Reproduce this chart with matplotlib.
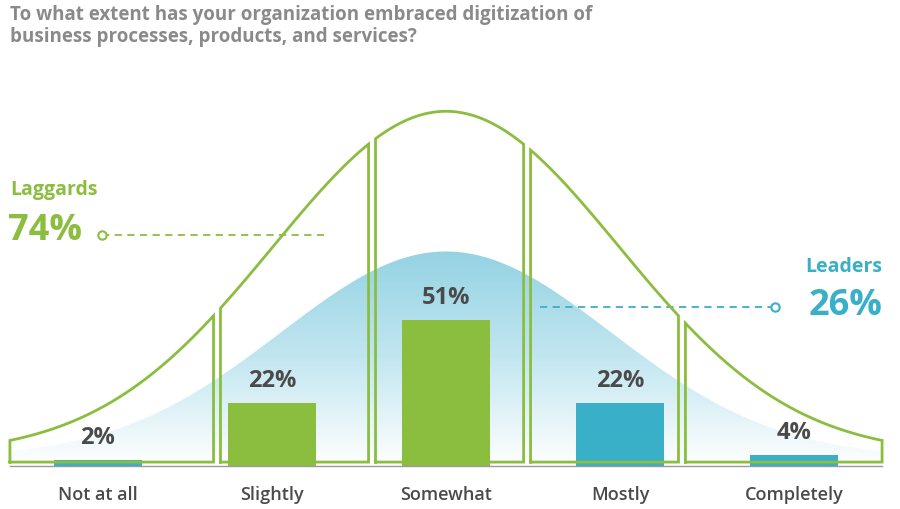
import numpy as np
import matplotlib.pyplot as plt
from matplotlib.patches import Polygon
from matplotlib.colors import LinearSegmentedColormap

plt.rcParams['font.family'] = 'Open Sans'

categories = ['Not at all', 'Slightly', 'Somewhat', 'Mostly', 'Completely']
values = [2, 22, 51, 22, 4]
bar_colors = ['#3aafc8', '#8bbd3f', '#8bbd3f', '#3aafc8', '#3aafc8']

GREEN = '#8bbd3f'
TEAL = '#3aafc8'
DARK = '#4a4a4a'

fig = plt.figure(figsize=(9, 5.09), dpi=100)
ax = fig.add_axes([0, 0, 1, 1])
ax.set_xlim(-0.563, 4.609)
ax.set_ylim(-15.0, 162.9)
ax.axis('off')

x = np.linspace(-0.506, 4.506, 400)

# blue gradient bell
blue_y = 3 + 72 * np.exp(-(x - 2) ** 2 / (2 * 0.95 ** 2))
cmap = LinearSegmentedColormap.from_list('b', ['#ffffff', '#c2e6f0', '#93d2e3'])
grad = np.linspace(0, 1, 256).reshape(-1, 1)
im = ax.imshow(grad, extent=[-0.506, 4.506, 0, 76], origin='lower', aspect='auto',
               cmap=cmap, zorder=1)
poly = Polygon(np.column_stack([np.r_[x, x[::-1]], np.r_[blue_y, np.zeros_like(x)]]),
               closed=True, facecolor='none', edgecolor='none')
ax.add_patch(poly)
im.set_clip_path(poly)

# green bell outline, split into columns
def green(v):
    return 4 + 120 * np.exp(-(v - 2) ** 2 / (2 * 0.993 ** 2))

edges = [-0.506, 0.684, 1.575, 2.466, 3.356, 4.506]
gap = 0.02
for i in range(5):
    a = edges[i] + (gap if i > 0 else 0)
    b = edges[i + 1] - (gap if i < 4 else 0)
    xs = np.linspace(a, b, 100)
    ys = green(xs)
    px = np.r_[a, xs, b, a]
    py = np.r_[1.4, ys, 1.4, 1.4]
    ax.plot(px, py, color=GREEN, lw=2, zorder=3, solid_joinstyle='miter')

# bars
pos = np.arange(len(categories))
ax.bar(pos, values, width=0.506, color=bar_colors, zorder=2)
ax.plot([-0.506, 4.506], [0, 0], color='#9a9a9a', lw=1, zorder=2)
for p, v in zip(pos, values):
    ax.text(p, v + 3.5, f'{v}%', ha='center', va='bottom', fontsize=17,
            fontweight='bold', color=DARK, zorder=4)
for p, c in zip(pos, categories):
    ax.text(p, -10, c, ha='center', va='center', fontsize=13, fontweight='semibold',
            color=DARK, zorder=4)

# title
fig.text(0.011, 0.99, 'To what extent has your organization embraced digitization of\n'
         'business processes, products, and services?', ha='left', va='top',
         fontsize=13.5, fontweight='bold', color='#8a8a8a', linespacing=1.1)

# laggards / leaders
ax.text(-0.506, 96.5, 'Laggards', ha='left', va='center', fontsize=14,
        fontweight='bold', color=GREEN)
ax.text(-0.516, 82, '74%', ha='left', va='center', fontsize=26,
        fontweight='bold', color=GREEN)
ax.plot([0.025, 1.305], [80.6, 80.6], ls='--', color=GREEN, lw=1.3, dashes=(4, 3))
ax.plot([0.025], [80.6], 'o', ms=6, mfc='white', mec=GREEN, mew=1.5)
ax.text(4.506, 69.6, 'Leaders', ha='right', va='center', fontsize=14,
        fontweight='bold', color=TEAL)
ax.text(4.506, 56, '26%', ha='right', va='center', fontsize=26,
        fontweight='bold', color=TEAL)
ax.plot([2.54, 3.89], [55.6, 55.6], ls='--', color=TEAL, lw=1.3, dashes=(4, 3))
ax.plot([3.89], [55.6], 'o', ms=6, mfc='white', mec=TEAL, mew=1.5)

fig.savefig('out.png', dpi=100)
